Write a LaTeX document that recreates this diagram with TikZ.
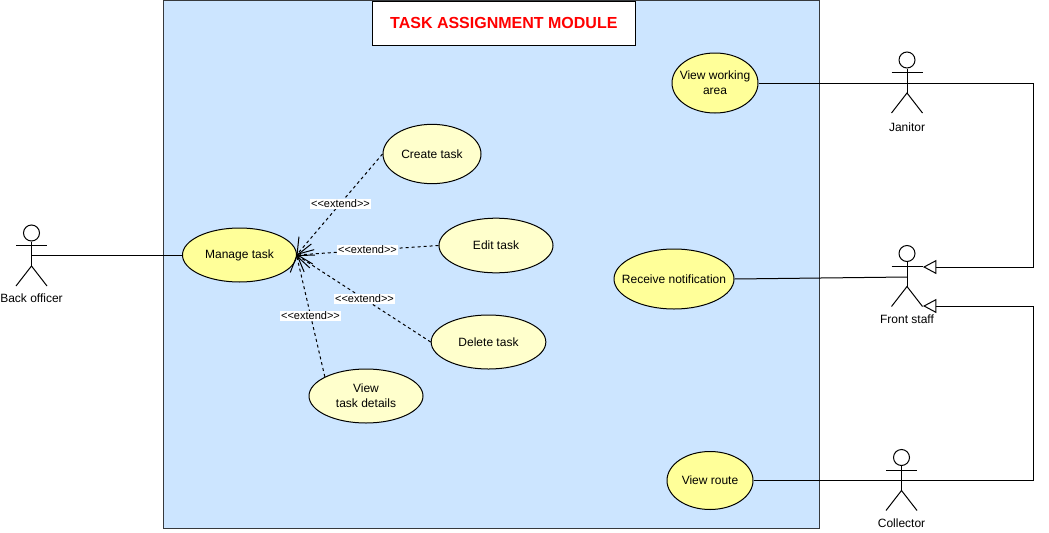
\documentclass[tikz,border=0pt]{standalone}
\usepackage{fontspec}
\setmainfont{Liberation Sans}
\usetikzlibrary{arrows.meta,shapes.geometric}
\definecolor{sysblue}{HTML}{CCE5FF}
\definecolor{ucmain}{HTML}{FFFF99}
\definecolor{ucsub}{HTML}{FFFFCC}
\definecolor{sysedge}{HTML}{36393D}
\tikzset{
  lw/.style={line width=.75pt},
  usecase/.style={draw=black,lw,ellipse,inner sep=0pt,align=center,font=\fontsize{9}{11.25}\selectfont},
  mainuc/.style={usecase,fill=ucmain},
  subuc/.style={usecase,fill=ucsub},
  extendline/.style={draw=black,lw,dash pattern=on 2.25pt off 2.25pt,-{Straight Barb[length=11pt,width=15pt,line width=.75pt]}},
  extendlabel/.style={fill=white,inner xsep=.6pt,inner ysep=1pt,font=\fontsize{8.25}{10}\selectfont},
  assoc/.style={draw=black,lw},
  general/.style={draw=black,lw,-{Triangle[open,fill=white,length=10pt,width=10.5pt,line width=.75pt]}},
  actorlabel/.style={font=\fontsize{9}{11}\selectfont,inner sep=0pt},
}
\newcommand{\fitless}[1]{\makebox[0pt]{#1}}
\newcommand{\actorfig}[5]{%
  \begin{scope}[shift={(#2,#3)}]
    \node[draw=black,lw,circle,minimum size=12pt,inner sep=0pt,fill=white] (#1head) at (0,8) {};
    \coordinate (#1hip) at (0,41);
    \coordinate (#1armL) at (-15.5,20.5);
    \coordinate (#1armR) at (15.5,20.5);
    \coordinate (#1legL) at (-15.5,61);
    \coordinate (#1legR) at (15.5,61);
    \draw[lw] (#1head.south) -- (#1hip);
    \draw[lw] (#1armL) -- (#1armR);
    \draw[lw] (#1legL) -- (#1hip) -- (#1legR);
    \node[actorlabel] (#1label) at (0,#5) {#4};
  \end{scope}
}
\begin{document}
\begin{tikzpicture}[x=.75pt,y=-.75pt]
\useasboundingbox (0,0) rectangle (1049,532);
\node[draw=sysedge,lw,fill=sysblue,minimum width=492pt,minimum height=396pt,inner sep=0pt,anchor=north west] (system) at (162.5,0) {};
\node[draw=black,lw,fill=white,minimum width=197pt,minimum height=33pt,inner sep=0pt,anchor=north west,text=red,font=\fontsize{12}{14}\bfseries\selectfont] (title) at (372,0.5) {TASK ASSIGNMENT MODULE};

\actorfig{bo}{31.5}{225}{Back officer}{73.5}
\actorfig{ja}{907}{52}{Janitor}{75}
\actorfig{fs}{907}{245.5}{Front staff}{73.5}
\actorfig{co}{901.5}{449.5}{Collector}{74}

\node[mainuc,minimum width=85.5pt,minimum height=40.5pt] (mt) at (239.5,255) {Manage task};
\node[subuc,minimum width=73.5pt,minimum height=44.5pt] (ct) at (432,154) {Create task};
\node[subuc,minimum width=85.5pt,minimum height=41pt] (et) at (496,245.5) {Edit task};
\node[subuc,minimum width=86pt,minimum height=40.5pt] (dt) at (488.5,342) {Delete task};
\node[subuc,minimum width=85.5pt,minimum height=40.5pt] (vd) at (366,396) {View\\[0pt]task details};
\node[mainuc,minimum width=64.5pt,minimum height=45pt] (vw) at (715,83) {\fitless{View working}\\\fitless{area}};
\node[mainuc,minimum width=90pt,minimum height=45pt] (rn) at (674,279) {\fitless{Receive notification}};
\node[mainuc,minimum width=64.5pt,minimum height=43.5pt] (vr) at (710,480.5) {View route};

\coordinate (tipmt) at (296.5,255);
\draw[extendline] (ct.west) -- (tipmt);
\draw[extendline] (et.west) -- (tipmt);
\draw[extendline] (dt.west) -- (tipmt);
\draw[extendline] (vd.155) -- (tipmt);
\node[extendlabel] (l1) at (340.5,204) {<{}<extend>{}>};
\node[extendlabel] (l2) at (367.5,250) {<{}<extend>{}>};
\node[extendlabel] (l3) at (364.5,299) {<{}<extend>{}>};
\node[extendlabel] (l4) at (310.5,316) {<{}<extend>{}>};

\coordinate (bobody) at (31.5,255);
\coordinate (fsbody) at (907,277);
\coordinate (c1) at (1033,83);
\coordinate (c2) at (1033,267);
\coordinate (c3) at (1033,480.5);
\coordinate (c4) at (1033,306);
\coordinate (fsarmtip) at (923,267);
\coordinate (fslegtip) at (923,306);

\draw[assoc] (bobody) -- (mt.west);
\draw[assoc] (rn.east) -- (fsbody);
\draw[general] (vw.east) -- (c1) -- (c2) -- (fsarmtip);
\draw[general] (vr.east) -- (c3) -- (c4) -- (fslegtip);
\end{tikzpicture}
\end{document}
